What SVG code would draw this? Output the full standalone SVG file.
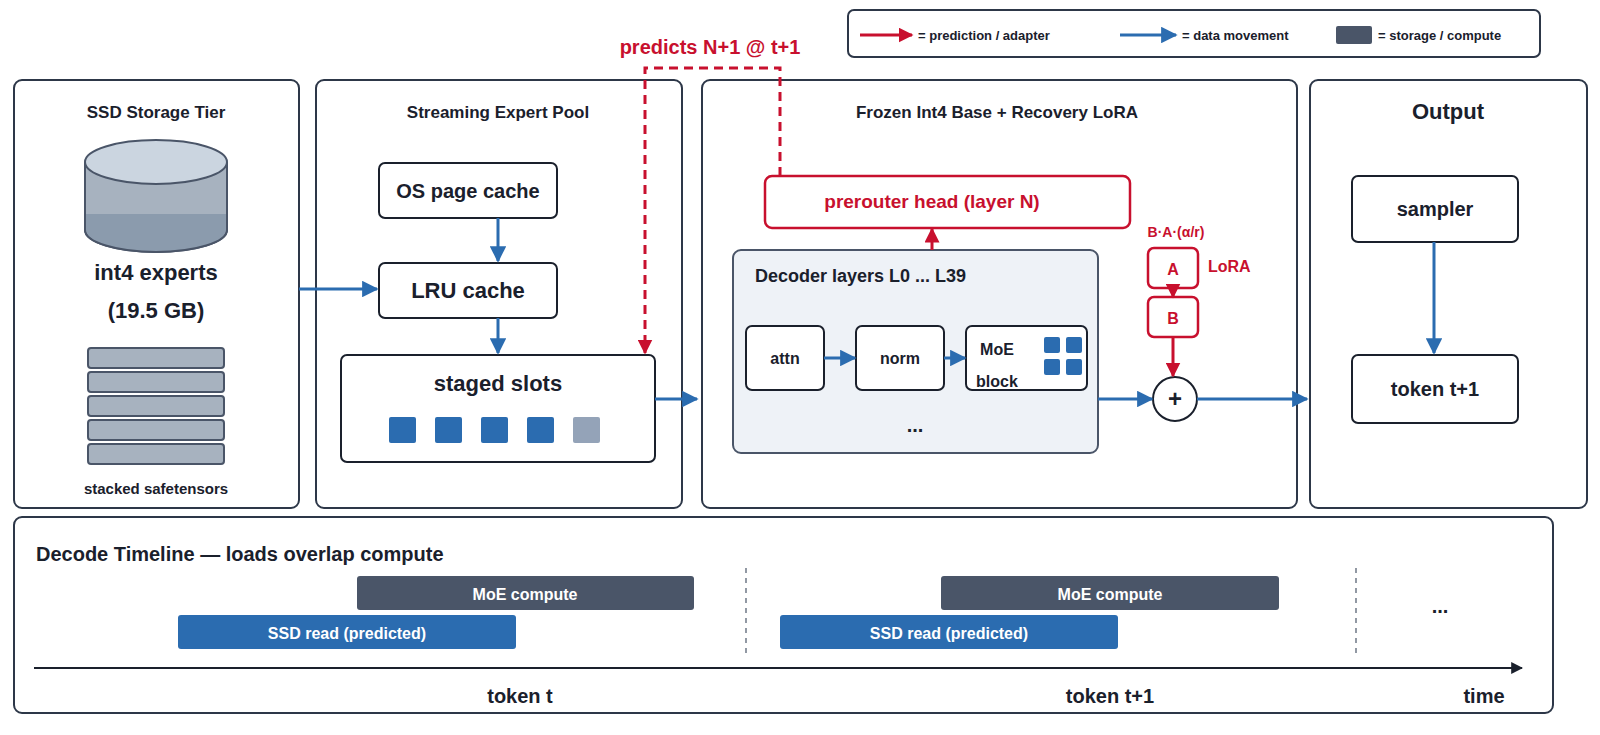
<svg xmlns="http://www.w3.org/2000/svg" width="1600" height="735" viewBox="0 0 1600 735">
<style>
text{font-family:"Liberation Sans",Arial,sans-serif;font-weight:bold;fill:#1a202c}
.panel{fill:#fff;stroke:#2d3748;stroke-width:2}
.box{fill:#fff;stroke:#1a202c;stroke-width:2}
.red{fill:#fff;stroke:#c8102e;stroke-width:2.5}
.rt{fill:#c8102e}
.b{stroke:#2b6cb0;stroke-width:3;fill:none}
.r{stroke:#c8102e;stroke-width:3;fill:none}
.c{text-anchor:middle}
.sq{fill:#2b6cb0}
.bar{fill:#a7b2bf;stroke:#4a5568;stroke-width:2}
</style>
<defs>
<marker id="ab" viewBox="0 0 10 10" refX="9" refY="5" markerWidth="5.5" markerHeight="5.5" orient="auto"><path d="M0,0L10,5L0,10z" fill="#2b6cb0"/></marker>
<marker id="ar" viewBox="0 0 10 10" refX="9" refY="5" markerWidth="5" markerHeight="5" orient="auto"><path d="M0,0L10,5L0,10z" fill="#c8102e"/></marker>
<marker id="ak" viewBox="0 0 10 10" refX="9" refY="5" markerWidth="6" markerHeight="6" orient="auto"><path d="M0,0L10,5L0,10z" fill="#1a202c"/></marker>
</defs>
<rect width="1600" height="735" fill="#fff"/>
<g id="legend">
<rect x="848" y="10" width="692" height="47" rx="6" class="panel"/>
<line x1="860" y1="35" x2="912" y2="35" class="r" marker-end="url(#ar)"/>
<text x="918" y="40" font-size="13">= prediction / adapter</text>
<line x1="1120" y1="35" x2="1176" y2="35" class="b" marker-end="url(#ab)"/>
<text x="1182" y="40" font-size="13">= data movement</text>
<rect x="1336" y="26" width="36" height="18" rx="2" fill="#4a5568"/>
<text x="1378" y="40" font-size="13">= storage / compute</text>
</g>
<g id="ssd">
<rect x="14" y="80" width="285" height="428" rx="8" class="panel"/>
<text x="156" y="118" font-size="17" class="c">SSD Storage Tier</text>
<path d="M85,162V230A71,22 0 0 0 227,230V162" fill="#a7b2bf" stroke="#4a5568" stroke-width="2"/>
<path d="M86,214H226V230A70,22 0 0 1 86,230Z" fill="#8b9bad"/>
<path d="M85,162V230A71,22 0 0 0 227,230V162" fill="none" stroke="#4a5568" stroke-width="2"/>
<ellipse cx="156" cy="162" rx="71" ry="22" fill="#cbd5e0" stroke="#4a5568" stroke-width="2"/>
<text x="156" y="280" font-size="22" class="c">int4 experts</text>
<text x="156" y="318" font-size="22" class="c">(19.5 GB)</text>
<rect x="88" y="348" width="136" height="20" rx="3" class="bar"/>
<rect x="88" y="372" width="136" height="20" rx="3" class="bar"/>
<rect x="88" y="396" width="136" height="20" rx="3" class="bar"/>
<rect x="88" y="420" width="136" height="20" rx="3" class="bar"/>
<rect x="88" y="444" width="136" height="20" rx="3" class="bar"/>
<text x="156" y="494" font-size="15" class="c">stacked safetensors</text>
</g>
<g id="pool">
<rect x="316" y="80" width="366" height="428" rx="8" class="panel"/>
<text x="498" y="118" font-size="17" class="c">Streaming Expert Pool</text>
<rect x="379" y="163" width="178" height="55" rx="6" class="box"/>
<text x="468" y="198" font-size="20" class="c">OS page cache</text>
<rect x="379" y="263" width="178" height="55" rx="6" class="box"/>
<text x="468" y="298" font-size="22" class="c">LRU cache</text>
<rect x="341" y="355" width="314" height="107" rx="6" class="box"/>
<text x="498" y="391" font-size="22" class="c">staged slots</text>
<rect x="389" y="417" width="27" height="26" rx="2" class="sq"/>
<rect x="435" y="417" width="27" height="26" rx="2" class="sq"/>
<rect x="481" y="417" width="27" height="26" rx="2" class="sq"/>
<rect x="527" y="417" width="27" height="26" rx="2" class="sq"/>
<rect x="573" y="417" width="27" height="26" rx="2" fill="#94a3b8"/>
</g>
<g id="frozen">
<rect x="702" y="80" width="595" height="428" rx="8" class="panel"/>
<text x="997" y="118" font-size="17" class="c">Frozen Int4 Base + Recovery LoRA</text>
<rect x="765" y="176" width="365" height="52" rx="7" class="red"/>
<text x="932" y="208" font-size="19" class="c rt">prerouter head (layer N)</text>
<rect x="733" y="250" width="365" height="203" rx="8" fill="#eef2f7" stroke="#4a5568" stroke-width="2"/>
<text x="755" y="282" font-size="18">Decoder layers L0 ... L39</text>
<rect x="746" y="326" width="78" height="64" rx="6" class="box"/>
<text x="785" y="364" font-size="16" class="c">attn</text>
<rect x="856" y="326" width="88" height="64" rx="6" class="box"/>
<text x="900" y="364" font-size="16" class="c">norm</text>
<rect x="966" y="326" width="121" height="64" rx="6" class="box"/>
<text x="997" y="355" font-size="16" class="c">MoE</text>
<text x="997" y="387" font-size="16" class="c">block</text>
<rect x="1044" y="337" width="16" height="16" rx="2" class="sq"/>
<rect x="1066" y="337" width="16" height="16" rx="2" class="sq"/>
<rect x="1044" y="359" width="16" height="16" rx="2" class="sq"/>
<rect x="1066" y="359" width="16" height="16" rx="2" class="sq"/>
<text x="915" y="432" font-size="20" class="c">...</text>
<text x="1176" y="237" font-size="14" class="c rt">B·A·(α/r)</text>
<rect x="1148" y="248" width="50" height="40" rx="6" class="red"/>
<text x="1173" y="275" font-size="16" class="c rt">A</text>
<rect x="1148" y="297" width="50" height="40" rx="6" class="red"/>
<text x="1173" y="324" font-size="16" class="c rt">B</text>
<text x="1208" y="272" font-size="16" class="rt">LoRA</text>
<circle cx="1175" cy="399" r="22" fill="#fff" stroke="#1a202c" stroke-width="2"/>
<text x="1175" y="407" font-size="24" class="c">+</text>
</g>
<g id="output">
<rect x="1310" y="80" width="277" height="428" rx="8" class="panel"/>
<text x="1448" y="119" font-size="22" class="c">Output</text>
<rect x="1352" y="176" width="166" height="66" rx="6" class="box"/>
<text x="1435" y="216" font-size="20" class="c">sampler</text>
<rect x="1352" y="355" width="166" height="68" rx="6" class="box"/>
<text x="1435" y="396" font-size="20" class="c">token t+1</text>
</g>
<g id="timeline">
<rect x="14" y="517" width="1539" height="196" rx="8" class="panel"/>
<text x="36" y="561" font-size="20">Decode Timeline — loads overlap compute</text>
<rect x="357" y="576" width="337" height="34" rx="3" fill="#4a5568"/>
<text x="525" y="600" font-size="16" class="c" style="fill:#fff">MoE compute</text>
<rect x="178" y="615" width="338" height="34" rx="3" fill="#2b6cb0"/>
<text x="347" y="639" font-size="16" class="c" style="fill:#fff">SSD read (predicted)</text>
<rect x="941" y="576" width="338" height="34" rx="3" fill="#4a5568"/>
<text x="1110" y="600" font-size="16" class="c" style="fill:#fff">MoE compute</text>
<rect x="780" y="615" width="338" height="34" rx="3" fill="#2b6cb0"/>
<text x="949" y="639" font-size="16" class="c" style="fill:#fff">SSD read (predicted)</text>
<line x1="746" y1="568" x2="746" y2="658" stroke="#4a5568" stroke-width="1.2" stroke-dasharray="5,5"/>
<line x1="1356" y1="568" x2="1356" y2="658" stroke="#4a5568" stroke-width="1.2" stroke-dasharray="5,5"/>
<text x="1440" y="613" font-size="20" class="c">...</text>
<line x1="34" y1="668" x2="1522" y2="668" stroke="#1a202c" stroke-width="2" marker-end="url(#ak)"/>
<text x="520" y="703" font-size="20" class="c">token t</text>
<text x="1110" y="703" font-size="20" class="c">token t+1</text>
<text x="1484" y="703" font-size="20" class="c">time</text>
</g>
<g id="connectors">
<line x1="299" y1="289" x2="377" y2="289" class="b" marker-end="url(#ab)"/>
<line x1="498" y1="218" x2="498" y2="261" class="b" marker-end="url(#ab)"/>
<line x1="498" y1="318" x2="498" y2="353" class="b" marker-end="url(#ab)"/>
<line x1="655" y1="399" x2="697" y2="399" class="b" marker-end="url(#ab)"/>
<line x1="824" y1="358" x2="855" y2="358" class="b" marker-end="url(#ab)"/>
<line x1="944" y1="358" x2="965" y2="358" class="b" marker-end="url(#ab)"/>
<line x1="1098" y1="399" x2="1152" y2="399" class="b" marker-end="url(#ab)"/>
<line x1="1197" y1="399" x2="1307" y2="399" class="b" marker-end="url(#ab)"/>
<line x1="1434" y1="242" x2="1434" y2="353" class="b" marker-end="url(#ab)"/>
<line x1="932" y1="250" x2="932" y2="229" class="r" marker-end="url(#ar)"/>
<line x1="1173" y1="288" x2="1173" y2="297" class="r" marker-end="url(#ar)"/>
<line x1="1173" y1="337" x2="1173" y2="376" class="r" marker-end="url(#ar)"/>
<path d="M780,176V68H645V353" class="r" stroke-dasharray="9,6" marker-end="url(#ar)"/>
<text x="710" y="54" font-size="20" class="c rt">predicts N+1 @ t+1</text>
</g>
</svg>
